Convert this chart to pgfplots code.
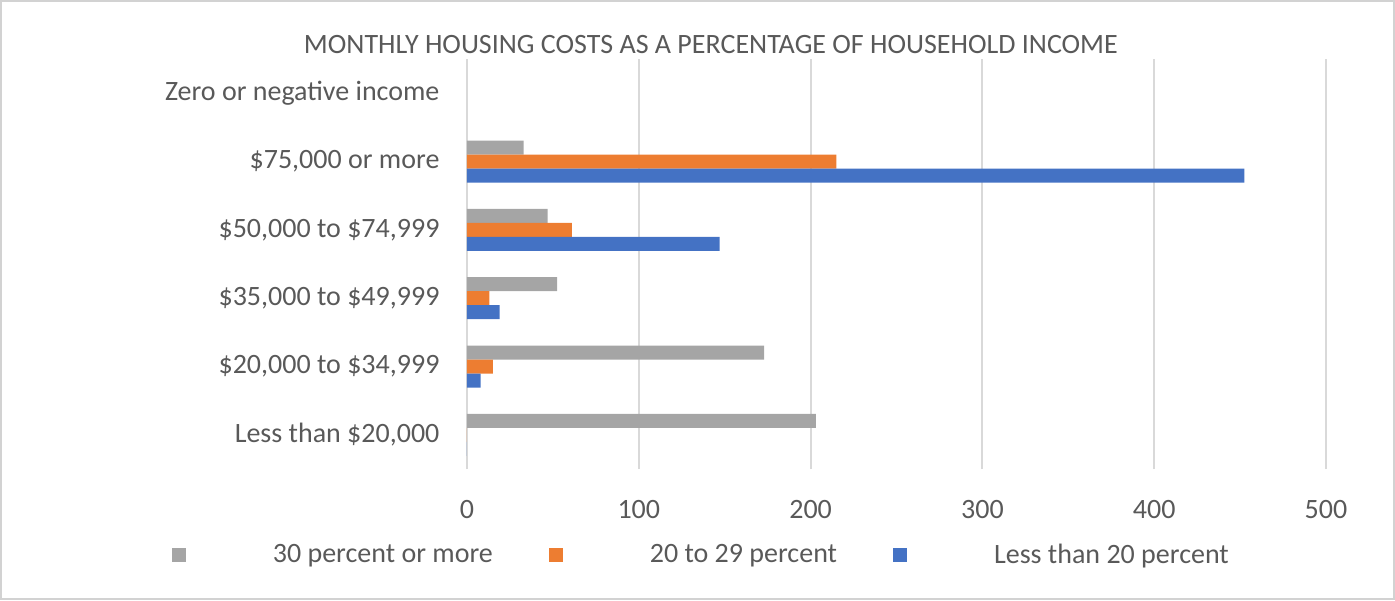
\documentclass[border=0pt]{standalone}
\usepackage{fontspec}
\setmainfont{Carlito}
\usepackage{pgfplots}
\pgfplotsset{compat=1.18}
\definecolor{cgray}{HTML}{A5A5A5}
\definecolor{corange}{HTML}{ED7D31}
\definecolor{cblue}{HTML}{4472C4}
\definecolor{txt}{HTML}{595959}
\definecolor{gridc}{HTML}{D9D9D9}
\begin{document}
\begin{tikzpicture}
\useasboundingbox (-233.5pt,-65.5pt) rectangle (464pt,234.5pt);
\draw[gray!35, line width=1pt] (-233pt,-65pt) rectangle (463.5pt,234pt);
\begin{axis}[
  scale only axis, width=429.5pt, height=205pt,
  xbar, bar width=7pt,
  xmin=0, xmax=500, ymin=-0.5, ymax=5.5,
  xtick={0,100,200,300,400,500},
  ytick={0,1,2,3,4,5},
  yticklabels={Less than \$20{,}000, \$20{,}000 to \$34{,}999, \$35{,}000 to \$49{,}999, \$50{,}000 to \$74{,}999, \$75{,}000 or more, Zero or negative income},
  axis line style={draw=none},
  tick style={draw=none},
  xmajorgrids, major grid style={draw=gridc, line width=1pt},
  /pgf/number format/assume math mode=true,
  tick label style={font=\fontsize{14}{16}\selectfont, text=txt},
  yticklabel style={xshift=-6pt},
  xticklabel style={yshift=-12pt},
  title={MONTHLY HOUSING COSTS AS A PERCENTAGE OF HOUSEHOLD INCOME},
  title style={at={(axis description cs:0.284,1.005)}, anchor=center, font=\fontsize{14}{16}\selectfont, text=txt},
  legend columns=3,
  legend style={draw=none, fill=none, at={(axis description cs:0.274,-0.21)}, anchor=center,
    font=\fontsize{14}{16}\selectfont, text=txt,
    /tikz/every odd column/.append style={column sep=41.5pt},
    /tikz/every even column/.append style={column sep=26pt}},
  legend image code/.code={\fill[#1] (0pt,-3.5pt) rectangle (7pt,3.5pt);},
]
\addplot[fill=cgray, draw=none, bar shift=7pt] coordinates {(203,0) (173,1) (52.5,2) (47,3) (33,4)};
\addplot[fill=corange, draw=none, bar shift=0pt] coordinates {(0,0) (15,1) (13,2) (61,3) (215,4)};
\addplot[fill=cblue, draw=none, bar shift=-7pt] coordinates {(0,0) (8,1) (19,2) (147,3) (452.5,4)};
\legend{30 percent or more, 20 to 29 percent, Less than 20 percent}
\end{axis}
\end{tikzpicture}
\end{document}
